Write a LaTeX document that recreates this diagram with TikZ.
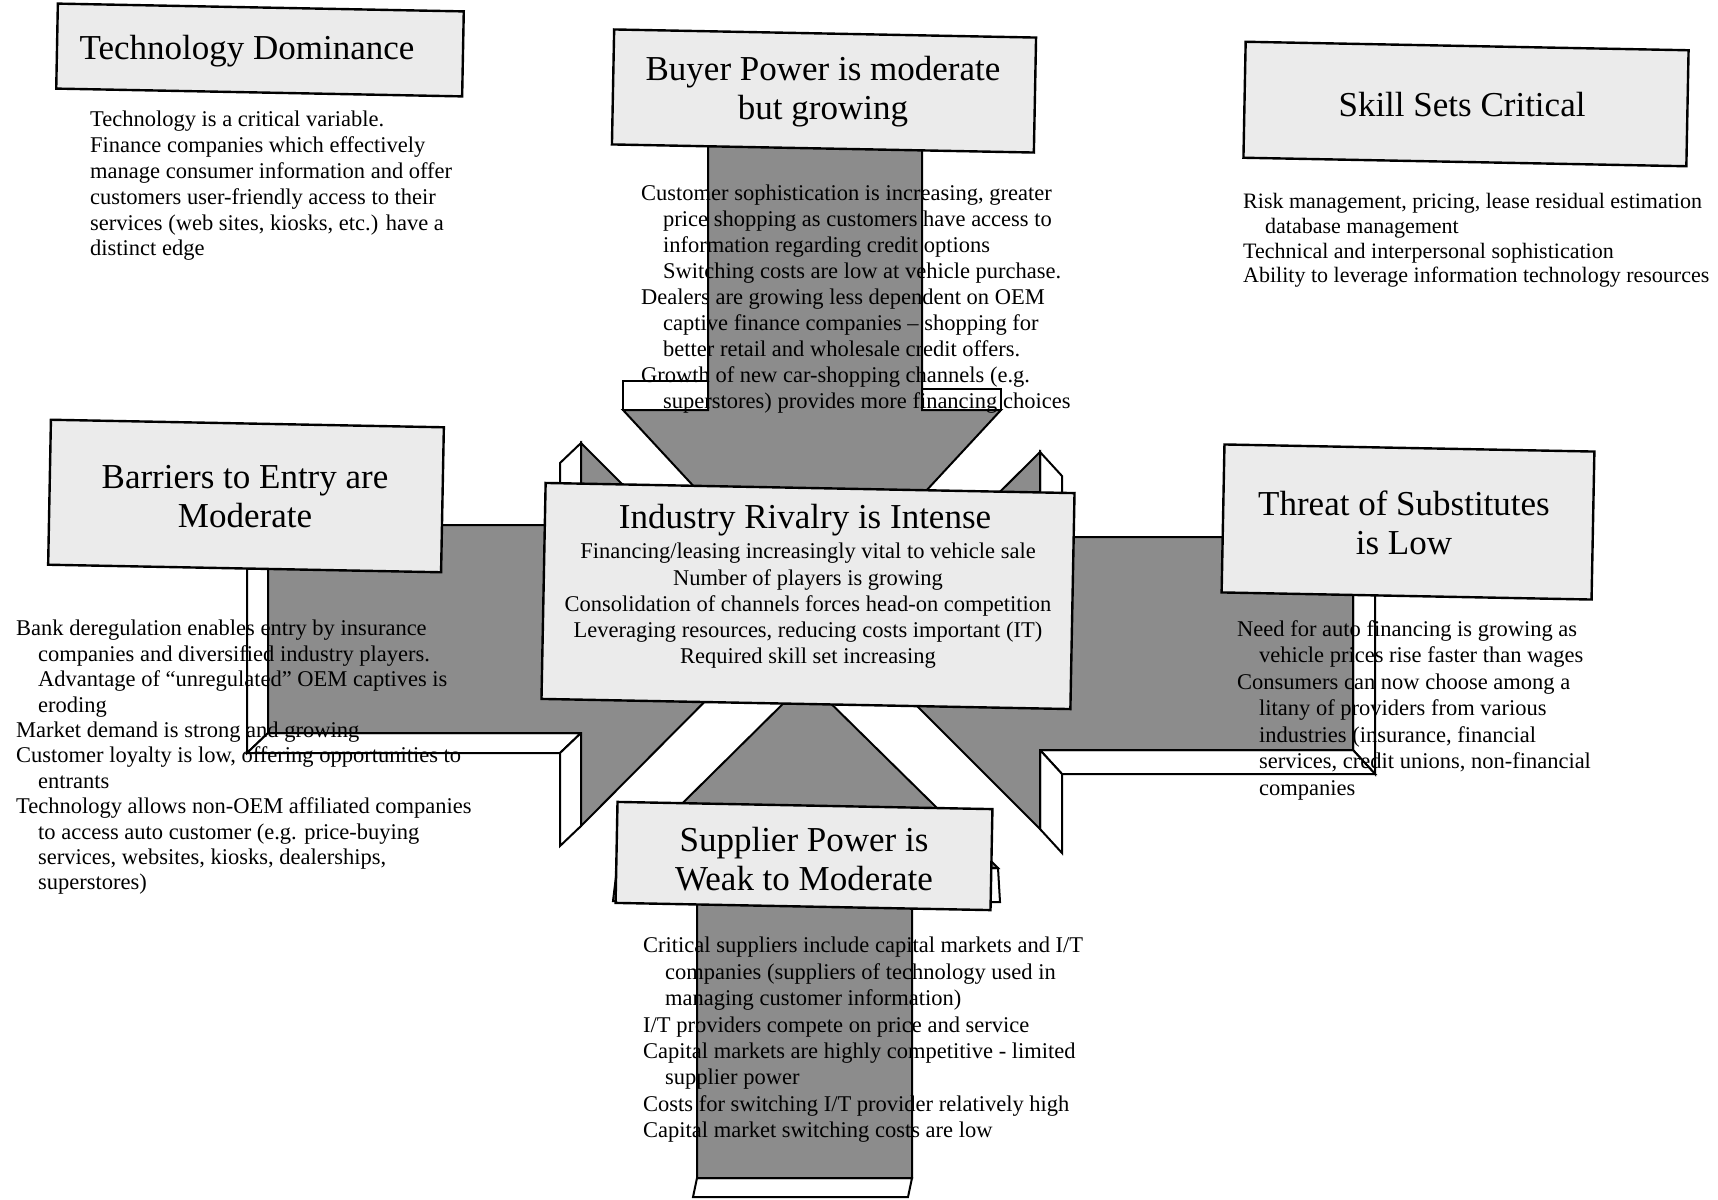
\documentclass[tikz,border=0pt]{standalone}
\usepackage{fontspec}
\setmainfont{Liberation Serif}
\newcommand{\subline}{\hspace*{22pt}}
\begin{document}
\begin{tikzpicture}[x=1pt,y=-1pt,
  arrowface/.style={fill=black!45, draw=black, line width=2pt, line join=miter},
  sideface/.style={fill=white, draw=black, line width=2pt, line join=miter},
  titlebox/.style={draw=black, line width=2.4pt, fill=black!8, rotate=-1.1,
    inner sep=0pt},
  titletext/.style={inner sep=0pt, align=center, font=\fontsize{35}{39}\selectfont},
  bodyblock/.style={anchor=north west, inner sep=0pt, align=left,
    font=\fontsize{22.5}{#1}\selectfont},
]
\useasboundingbox (0,0) rectangle (1718,1199);
\clip (0,0) rectangle (1718,1199);

% ---- block arrows: white depth faces first, grey front faces on top ----
% buyer arrow (points down)
\draw[sideface] (623,381) rectangle (708,410);
\draw[sideface] (922,389) rectangle (1001,410);
\draw[arrowface] (708,140) -- (708,410) -- (623,410) -- (812,614) -- (1001,410)
  -- (922,410) -- (922,140) -- cycle;

% supplier arrow (points up)
\draw[sideface] (697,1178) -- (912,1178) -- (908,1197) -- (693,1197) -- cycle;
\draw[sideface] (617,868) -- (697,868) -- (693,901) -- (613,901) -- cycle;
\draw[sideface] (912,868) -- (998,868) -- (1000,902) -- (910,902) -- cycle;
\draw[arrowface] (697,1178) -- (697,868) -- (617,868) -- (807,680) -- (998,868)
  -- (912,868) -- (912,1178) -- cycle;

% entry arrow (points right)
\draw[sideface] (268,525) -- (247,545) -- (247,753) -- (268,733) -- cycle;
\draw[sideface] (268,733) -- (581,733) -- (560,753) -- (247,753) -- cycle;
\draw[sideface] (581,733) -- (560,753) -- (560,846) -- (581,826) -- cycle;
\draw[sideface] (581,443) -- (560,463) -- (560,545) -- (581,525) -- cycle;
\draw[arrowface] (268,525) -- (581,525) -- (581,443) -- (772,634) -- (581,826)
  -- (581,733) -- (268,733) -- cycle;

% substitutes arrow (points left)
\draw[sideface] (1353,537) -- (1375,561) -- (1375,774) -- (1353,750) -- cycle;
\draw[sideface] (1040,750) -- (1353,750) -- (1375,774) -- (1062,774) -- cycle;
\draw[sideface] (1040,750) -- (1062,774) -- (1062,853) -- (1040,829) -- cycle;
\draw[sideface] (1040,452) -- (1062,476) -- (1062,561) -- (1040,537) -- cycle;
\draw[arrowface] (1353,537) -- (1040,537) -- (1040,452) -- (851,640) -- (1040,829)
  -- (1040,750) -- (1353,750) -- cycle;

% ---- title boxes and their titles ----
\node[titlebox, minimum width=406pt, minimum height=85pt] (tech) at (260,50) {};
\node[titletext] (techtitle) at (247,51) {Technology Dominance};

\node[titlebox, minimum width=443pt, minimum height=116pt] (skill) at (1466,104) {};
\node[titletext] (skilltitle) at (1462,105) {Skill Sets Critical};

\node[titlebox, minimum width=422pt, minimum height=115pt] (buyer) at (824,91) {};
\node[titletext] (buyertitle) at (823,92) {Buyer Power is moderate\\ but growing};

\node[titlebox, minimum width=393pt, minimum height=145pt] (entry) at (246,496) {};
\node[titletext] (entrytitle) at (245,497) {Barriers to Entry are\\ Moderate};

\node[titlebox, minimum width=370pt, minimum height=148pt] (subst) at (1408,522) {};
\node[titletext] (substtitle) at (1404,523) {Threat of Substitutes\\ is Low};

\node[titlebox, minimum width=375pt, minimum height=101pt] (supplier) at (804,856) {};
\node[titletext] (suppliertitle) at (804,859) {Supplier Power is\\ Weak to Moderate};

\node[titlebox, minimum width=529pt, minimum height=216pt] (rivalry) at (808,596) {};
\node[titletext] (rivalrytitle) at (805,520) {Industry Rivalry is Intense};
\node[anchor=north, inner sep=0pt, align=center,
  font=\fontsize{22.5}{26.2}\selectfont] (rivalrytext) at (808,543)
  {Financing/leasing increasingly vital to vehicle sale\\
   Number of players is growing\\
   Consolidation of channels forces head-on competition\\
   Leveraging resources, reducing costs important (IT)\\
   Required skill set increasing};

% ---- body texts ----
\node[bodyblock=25.8] (techtext) at (90,111)
  {Technology is a critical variable.\\
   Finance companies which effectively\\
   manage consumer information and offer\\
   customers user-friendly access to their\\
   services (web sites, kiosks, etc.) have a\\
   distinct edge};

\node[bodyblock=24.8, font=\fontsize{22}{24.8}\selectfont] (skilltext) at (1243,193)
  {Risk management, pricing, lease residual estimation\\
   \subline database management\\
   Technical and interpersonal sophistication\\
   Ability to leverage information technology resources};

\node[bodyblock=25.9] (buyertext) at (641,185)
  {Customer sophistication is increasing, greater\\
   \subline price shopping as customers have access to\\
   \subline information regarding credit options\\
   \subline Switching costs are low at vehicle purchase.\\
   Dealers are growing less dependent on OEM\\
   \subline captive finance companies -- shopping for\\
   \subline better retail and wholesale credit offers.\\
   Growth of new car-shopping channels (e.g.\\
   \subline superstores) provides more financing choices};

\node[bodyblock=25.4] (entrytext) at (16,620)
  {Bank deregulation enables entry by insurance\\
   \subline companies and diversified industry players.\\
   \subline Advantage of ``unregulated'' OEM captives is\\
   \subline eroding\\
   Market demand is strong and growing\\
   Customer loyalty is low, offering opportunities to\\
   \subline entrants\\
   Technology allows non-OEM affiliated companies\\
   \subline to access auto customer (e.g. price-buying\\
   \subline services, websites, kiosks, dealerships,\\
   \subline superstores)};

\node[bodyblock=26.5] (substtext) at (1237,620)
  {Need for auto financing is growing as\\
   \subline vehicle prices rise faster than wages\\
   Consumers can now choose among a\\
   \subline litany of providers from various\\
   \subline industries (insurance, financial\\
   \subline services, credit unions, non-financial\\
   \subline companies};

\node[bodyblock=26.4] (suppliertext) at (643,937)
  {Critical suppliers include capital markets and I/T\\
   \subline companies (suppliers of technology used in\\
   \subline managing customer information)\\
   I/T providers compete on price and service\\
   Capital markets are highly competitive - limited\\
   \subline supplier power\\
   Costs for switching I/T provider relatively high\\
   Capital market switching costs are low};
\end{tikzpicture}
\end{document}
